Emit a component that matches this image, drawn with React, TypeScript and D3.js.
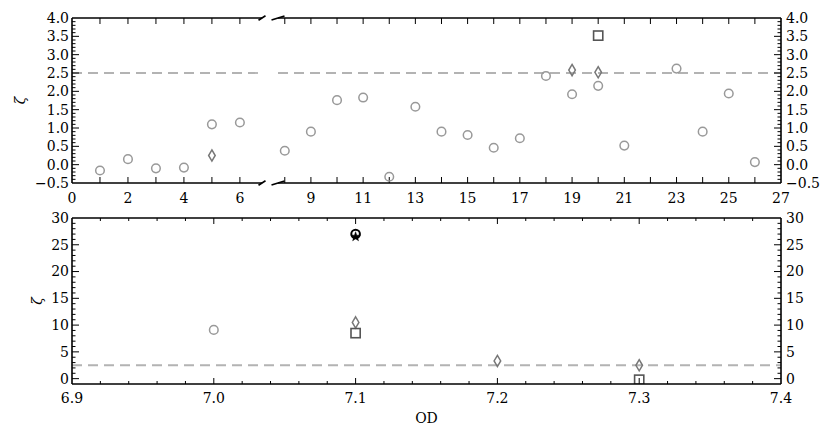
import React from "react";
import * as d3 from "d3";

// ---------- data ----------
const topCircleX = [1, 2, 3, 4, 5, 6, 8, 9, 10, 11, 12, 13, 14, 15, 16, 17, 18, 19, 20, 21, 23, 24, 25, 26];
const topCircleY = [-0.16, 0.15, -0.1, -0.08, 1.1, 1.15, 0.38, 0.9, 1.76, 1.83, -0.33, 1.58, 0.9, 0.81, 0.46, 0.72, 2.42, 1.92, 2.15, 0.52, 2.62, 0.9, 1.94, 0.07];
const topDiamondX = [5, 19, 20];
const topDiamondY = [0.25, 2.58, 2.52];
const topSquareX = [20];
const topSquareY = [3.52];

const botCircleX = [7.0];
const botCircleY = [9.1];
const botBlackCircleX = [7.1];
const botBlackCircleY = [27];
const botStarX = [7.1];
const botStarY = [26.5];
const botDiamondX = [7.1, 7.2, 7.3];
const botDiamondY = [10.5, 3.3, 2.5];
const botSquareX = [7.1, 7.3];
const botSquareY = [8.5, -0.2];

const threshold = 2.5;

const topLeftTicks = [0, 2, 4, 6];
const topRightTicks = [9, 11, 13, 15, 17, 19, 21, 23, 25, 27];
const topYTicks = [-0.5, 0, 0.5, 1, 1.5, 2, 2.5, 3, 3.5, 4];
const botXTicks = [6.9, 7.0, 7.1, 7.2, 7.3, 7.4];
const botYTicks = [0, 5, 10, 15, 20, 25, 30];

// ---------- layout ----------
const W = 831, H = 438;
const FONT = "'DejaVu Serif', serif";
const FS = 14;
const topY0 = 18, topY1 = 183;
const leftX0 = 72, leftX1 = 262;
const rightX0 = 278, rightX1 = 781;
const botY0 = 218, botY1 = 384;

const C_CIRCLE = "#999999";
const C_DIAMOND = "#777777";
const C_SQUARE = "#555555";
const C_DASH = "#b3b3b3";

const xL = d3.scaleLinear().domain([0, 6.79]).range([leftX0, leftX1]);
const xR = d3.scaleLinear().domain([7.74, 27]).range([rightX0, rightX1]);
const yT = d3.scaleLinear().domain([-0.5, 4]).range([topY1, topY0]);
const xB = d3.scaleLinear().domain([6.9, 7.4]).range([leftX0, rightX1]);
const yB = d3.scaleLinear().domain([-1, 30]).range([botY1, botY0]);

const fmt1 = d3.format(".1f");
const minus = (s: string) => s.replace("-", "\u2212");

function Circle({ x, y, color, r = 4.3, sw = 1.5 }: any) {
  return <circle cx={x} cy={y} r={r} fill="none" stroke={color} strokeWidth={sw} />;
}
function Diamond({ x, y, color }: any) {
  const w = 3.3, h = 5.6;
  return <path d={`M${x},${y - h}L${x + w},${y}L${x},${y + h}L${x - w},${y}Z`} fill="none" stroke={color} strokeWidth={1.5} />;
}
function Square({ x, y, color }: any) {
  const s = 4.6;
  return <rect x={x - s} y={y - s} width={2 * s} height={2 * s} fill="none" stroke={color} strokeWidth={1.6} />;
}
function Star({ x, y }: any) {
  const p = d3.symbol().type(d3.symbolStar).size(28)();
  return <path d={p as string} transform={`translate(${x},${y})`} fill="#000" stroke="#000" strokeWidth={0.5} />;
}

export default function App() {
  const els: React.ReactNode[] = [];
  let k = 0;
  const line = (x1: number, y1: number, x2: number, y2: number, sw = 1, col = "#000") =>
    els.push(<line key={k++} x1={x1} y1={y1} x2={x2} y2={y2} stroke={col} strokeWidth={sw} />);
  const text = (x: number, y: number, s: string, anchor: string, extra: any = {}) =>
    els.push(
      <text key={k++} x={x} y={y} textAnchor={anchor} fontFamily={FONT} fontSize={FS} fill="#000" {...extra}>
        {s}
      </text>
    );

  // ---------- TOP PANEL ----------
  els.push(<line key={k++} x1={leftX0} x2={leftX1} y1={yT(threshold)} y2={yT(threshold)} stroke={C_DASH} strokeWidth={1.8} strokeDasharray="10,6" />);
  els.push(<line key={k++} x1={rightX0} x2={rightX1} y1={yT(threshold)} y2={yT(threshold)} stroke={C_DASH} strokeWidth={1.8} strokeDasharray="10,6" />);

  for (let v = 1; v <= 6; v++) {
    line(xL(v), topY1, xL(v), topY1 - 6);
    line(xL(v), topY0, xL(v), topY0 + 6);
  }
  for (let v = 8; v <= 26; v++) {
    line(xR(v), topY1, xR(v), topY1 - 6);
    line(xR(v), topY0, xR(v), topY0 + 6);
  }
  topLeftTicks.forEach((v) => text(xL(v), topY1 + 20, String(v), "middle"));
  topRightTicks.forEach((v) => text(xR(v), topY1 + 20, String(v), "middle"));

  for (let i = -5; i <= 40; i++) {
    const v = i / 10;
    const major = i % 5 === 0;
    const len = major ? 7 : 3.5;
    if (v > -0.5 && v < 4) {
      line(leftX0, yT(v), leftX0 + len, yT(v));
      line(rightX1, yT(v), rightX1 - len, yT(v));
    }
  }
  topYTicks.forEach((v) => {
    text(leftX0 - 3, yT(v), minus(fmt1(v)), "end", { dy: "0.35em" });
    text(rightX1 + 5, yT(v), minus(fmt1(v)), "start", { dy: "0.35em" });
  });

  line(leftX0, topY0, leftX1, topY0, 1.6);
  line(leftX0, topY1, leftX1, topY1, 1.6);
  line(leftX0, topY0, leftX0, topY1, 1.6);
  line(rightX0, topY0, rightX1, topY0, 1.6);
  line(rightX0, topY1, rightX1, topY1, 1.6);
  line(rightX1, topY0, rightX1, topY1, 1.6);
  [topY0, topY1].forEach((yy) => {
    line(leftX1 - 3.5, yy + 2.2, leftX1 + 3.5, yy - 2.2, 1.6);
    line(rightX0 - 6.5, yy + 2, rightX0 + 6.5, yy - 2, 1.6);
  });

  text(20, (topY0 + topY1) / 2, "\u03b6", "middle", { transform: `rotate(-90,20,${(topY0 + topY1) / 2})`, dy: "0.35em", fontStyle: "italic" });

  topCircleX.forEach((x, i) => {
    const sx = x < 7 ? xL(x) : xR(x);
    els.push(<Circle key={k++} x={sx} y={yT(topCircleY[i])} color={C_CIRCLE} />);
  });
  topDiamondX.forEach((x, i) => {
    const sx = x < 7 ? xL(x) : xR(x);
    els.push(<Diamond key={k++} x={sx} y={yT(topDiamondY[i])} color={C_DIAMOND} />);
  });
  topSquareX.forEach((x, i) => {
    const sx = x < 7 ? xL(x) : xR(x);
    els.push(<Square key={k++} x={sx} y={yT(topSquareY[i])} color={C_SQUARE} />);
  });

  // ---------- BOTTOM PANEL ----------
  els.push(<line key={k++} x1={leftX0} x2={rightX1} y1={yB(threshold)} y2={yB(threshold)} stroke={C_DASH} strokeWidth={1.8} strokeDasharray="10,6" />);

  for (let i = 0; i <= 25; i++) {
    const v = 6.9 + i * 0.02;
    const major = i % 5 === 0;
    const len = major ? 6 : 3;
    if (i > 0 && i < 25) {
      line(xB(v), botY1, xB(v), botY1 - len);
      line(xB(v), botY0, xB(v), botY0 + len);
    }
  }
  botXTicks.forEach((v) => text(xB(v), botY1 + 19, fmt1(v), "middle"));

  for (let v = 0; v <= 29; v++) {
    const major = v % 5 === 0;
    const len = major ? 7 : 3.5;
    line(leftX0, yB(v), leftX0 + len, yB(v));
    line(rightX1, yB(v), rightX1 - len, yB(v));
  }
  botYTicks.forEach((v) => {
    text(leftX0 - 3, yB(v), String(v), "end", { dy: "0.35em" });
    text(rightX1 + 5, yB(v), String(v), "start", { dy: "0.35em" });
  });

  const bc = "bclip";
  const markers: React.ReactNode[] = [];
  botCircleX.forEach((x, i) => markers.push(<Circle key={k++} x={xB(x)} y={yB(botCircleY[i])} color={C_CIRCLE} />));
  botDiamondX.forEach((x, i) => markers.push(<Diamond key={k++} x={xB(x)} y={yB(botDiamondY[i])} color={C_DIAMOND} />));
  botSquareX.forEach((x, i) => markers.push(<Square key={k++} x={xB(x)} y={yB(botSquareY[i])} color={C_SQUARE} />));
  botStarX.forEach((x, i) => markers.push(<Star key={k++} x={xB(x)} y={yB(botStarY[i])} />));
  botBlackCircleX.forEach((x, i) => markers.push(<Circle key={k++} x={xB(x)} y={yB(botBlackCircleY[i])} color="#000" r={4.3} sw={2} />));
  els.push(<g key={k++} clipPath={`url(#${bc})`}>{markers}</g>);

  line(leftX0, botY0, rightX1, botY0, 1.6);
  line(leftX0, botY1, rightX1, botY1, 1.6);
  line(leftX0, botY0, leftX0, botY1, 1.6);
  line(rightX1, botY0, rightX1, botY1, 1.6);

  text(37, (botY0 + botY1) / 2, "\u03b6", "middle", { transform: `rotate(-90,37,${(botY0 + botY1) / 2})`, dy: "0.35em", fontStyle: "italic" });
  text((leftX0 + rightX1) / 2, 423, "OD", "middle");

  return (
    <svg width={W} height={H} style={{ position: "absolute", left: 0, top: 0, background: "#fff" }}>
      <defs>
        <clipPath id={bc}>
          <rect x={leftX0} y={botY0} width={rightX1 - leftX0} height={botY1 - botY0} />
        </clipPath>
      </defs>
      <rect x={0} y={0} width={W} height={H} fill="#fff" />
      {els}
    </svg>
  );
}
